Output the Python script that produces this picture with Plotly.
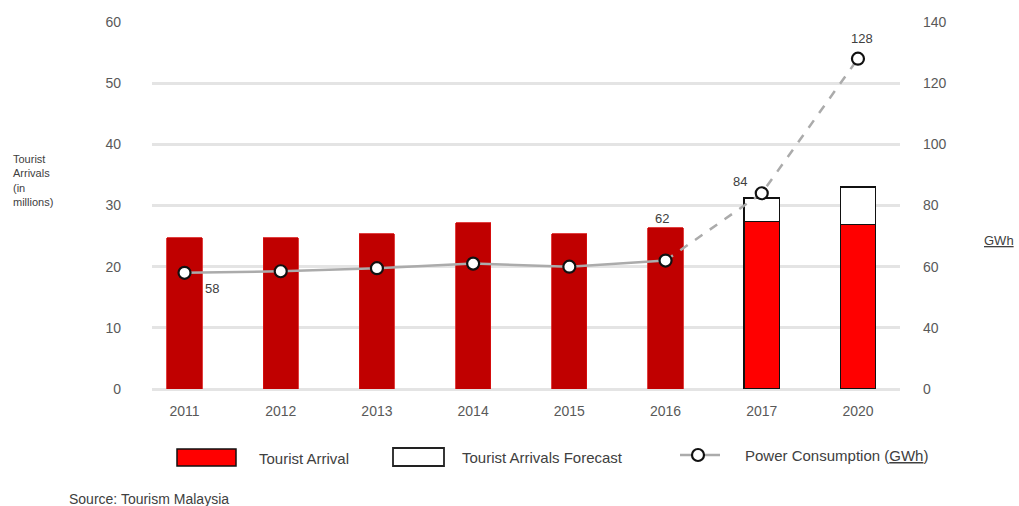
import plotly.graph_objects as go

# ---- data ----
years = ["2011", "2012", "2013", "2014", "2015", "2016", "2017", "2020"]
arrivals = [24.7, 24.7, 25.4, 27.2, 25.4, 26.4, 27.4, 26.9]          # millions
forecast_extra = [None, None, None, None, None, None, 3.8, 6.1]      # millions
power = [58, 58.5, 59.5, 61, 60, 62, 84, 128]                        # GWh
power_labels = ["58", "", "", "", "", "62", "84", "128"]
left_ticks = [0, 10, 20, 30, 40, 50, 60]
right_tickvals = [20, 40, 60, 80, 100, 120, 140]
right_ticktext = ["0", "40", "60", "80", "100", "120", "140"]
forecast_years = {"2017", "2020"}

# ---- styling ----
DARK_RED = "#C00000"
RED = "#FF0000"
GRID = "#e4e4e4"
LINE_GREY = "#ababab"
TICK_COLOR = "#595959"
TEXT_COLOR = "#404040"
FONT = "Liberation Sans, Arial, sans-serif"

W, H = 1019, 506
L, R, T, B = 152, 119, 22, 117
PW, PH = W - L - R, H - T - B

# pixel offsets of each value label from its marker
label_shift = {"58": (27, -16), "62": (-4, 42), "84": (-22, 12), "128": (4, 20)}


def px_x(px):
    return (px - L) / PW


def px_y(py):
    return (H - B - py) / PH


bar_colors = [RED if y in forecast_years else DARK_RED for y in years]
bar_line_colors = ["#111111" if y in forecast_years else "#d81010" for y in years]
bar_line_widths = [1.6 if y in forecast_years else 0.8 for y in years]

fig = go.Figure()

fig.add_trace(go.Bar(
    x=years, y=arrivals, name="Tourist Arrival",
    width=0.365,
    marker=dict(color=bar_colors,
                line=dict(color=bar_line_colors, width=bar_line_widths)),
    showlegend=False, hoverinfo="x+y",
))
fig.add_trace(go.Bar(
    x=years, y=forecast_extra, name="Tourist Arrivals Forecast",
    width=0.365,
    marker=dict(color="white", line=dict(color="#111111", width=1.6)),
    showlegend=False, hoverinfo="x+y",
))

# power consumption: solid for actuals, dashed towards the forecast years
n_actual = len([y for y in years if y not in forecast_years])
fig.add_trace(go.Scatter(
    x=years[:n_actual], y=power[:n_actual], yaxis="y2", mode="lines",
    line=dict(color=LINE_GREY, width=2.5), showlegend=False, hoverinfo="skip",
))
fig.add_trace(go.Scatter(
    x=years[n_actual - 1:], y=power[n_actual - 1:], yaxis="y2", mode="lines",
    line=dict(color=LINE_GREY, width=2.5, dash="dash"), showlegend=False,
    hoverinfo="skip",
))
fig.add_trace(go.Scatter(
    x=years, y=power, yaxis="y2", mode="markers",
    name="Power Consumption (GWh)",
    marker=dict(size=12, color="white", line=dict(color="#111111", width=2.2)),
    showlegend=False,
))

# ---- legend drawn below the axis ----
shapes = [
    dict(type="rect", xref="paper", yref="paper",
         x0=px_x(177), x1=px_x(236), y0=px_y(466), y1=px_y(449),
         fillcolor=RED, line=dict(color="#111111", width=1.5)),
    dict(type="rect", xref="paper", yref="paper",
         x0=px_x(393), x1=px_x(444), y0=px_y(466), y1=px_y(448),
         fillcolor="white", line=dict(color="#222222", width=1.8)),
    dict(type="line", xref="paper", yref="paper",
         x0=px_x(680), x1=px_x(720), y0=px_y(455), y1=px_y(455),
         line=dict(color=LINE_GREY, width=2.5)),
    dict(type="circle", xref="paper", yref="paper",
         x0=px_x(692), x1=px_x(704), y0=px_y(461), y1=px_y(449),
         fillcolor="white", line=dict(color="#111111", width=2.2)),
]

annotations = [
    dict(text="Tourist Arrival", x=px_x(257), y=px_y(458)),
    dict(text="Tourist Arrivals Forecast", x=px_x(460), y=px_y(457)),
    dict(text="Power Consumption (<u>GWh</u>)", x=px_x(743), y=px_y(456)),
    dict(text="Source: Tourism Malaysia", x=px_x(67), y=px_y(499),
         font=dict(family=FONT, size=14, color=TEXT_COLOR)),
    dict(text="Tourist<br>Arrivals<br>(in<br>millions)", x=px_x(11), y=px_y(181),
         font=dict(family=FONT, size=11, color=TEXT_COLOR), align="left"),
    dict(text="<u>GWh</u>", x=px_x(982), y=px_y(240),
         font=dict(family=FONT, size=13, color=TEXT_COLOR)),
]
for a in annotations:
    a.update(xref="paper", yref="paper", xanchor="left", yanchor="middle",
             showarrow=False)
    a.setdefault("font", dict(family=FONT, size=15, color=TEXT_COLOR))

# value labels attached to the power consumption points (category index on x)
for i, (val, lab) in enumerate(zip(power, power_labels)):
    if not lab:
        continue
    dx, dy = label_shift[lab]
    annotations.append(dict(
        text=lab, x=i, y=val, xref="x", yref="y2", showarrow=False,
        xanchor="center", yanchor="middle", xshift=dx, yshift=dy,
        font=dict(family=FONT, size=13, color=TEXT_COLOR),
    ))

fig.update_layout(
    width=W, height=H, autosize=False,
    margin=dict(l=L, r=R, t=T, b=B, pad=0),
    paper_bgcolor="white", plot_bgcolor="white",
    barmode="stack", bargap=0.6,
    font=dict(family=FONT, size=14, color=TICK_COLOR),
    xaxis=dict(type="category", range=[-0.338, 7.437], showgrid=False,
               showline=False, zeroline=False, ticks="",
               ticklabelstandoff=12,
               tickfont=dict(family=FONT, size=14, color=TICK_COLOR)),
    yaxis=dict(range=[0, 60], tickvals=left_ticks, showgrid=True,
               gridcolor=GRID, gridwidth=2.5, zeroline=True,
               zerolinecolor=GRID, zerolinewidth=2.5, showline=False,
               ticks="", ticklabelstandoff=30,
               tickfont=dict(family=FONT, size=14, color=TICK_COLOR)),
    yaxis2=dict(range=[20, 140], overlaying="y", side="right",
                tickvals=right_tickvals, ticktext=right_ticktext,
                showgrid=False, zeroline=False, showline=False, ticks="",
                ticklabelstandoff=22,
                tickfont=dict(family=FONT, size=14, color=TICK_COLOR)),
    shapes=shapes, annotations=annotations,
)

fig.write_html("out.html")
